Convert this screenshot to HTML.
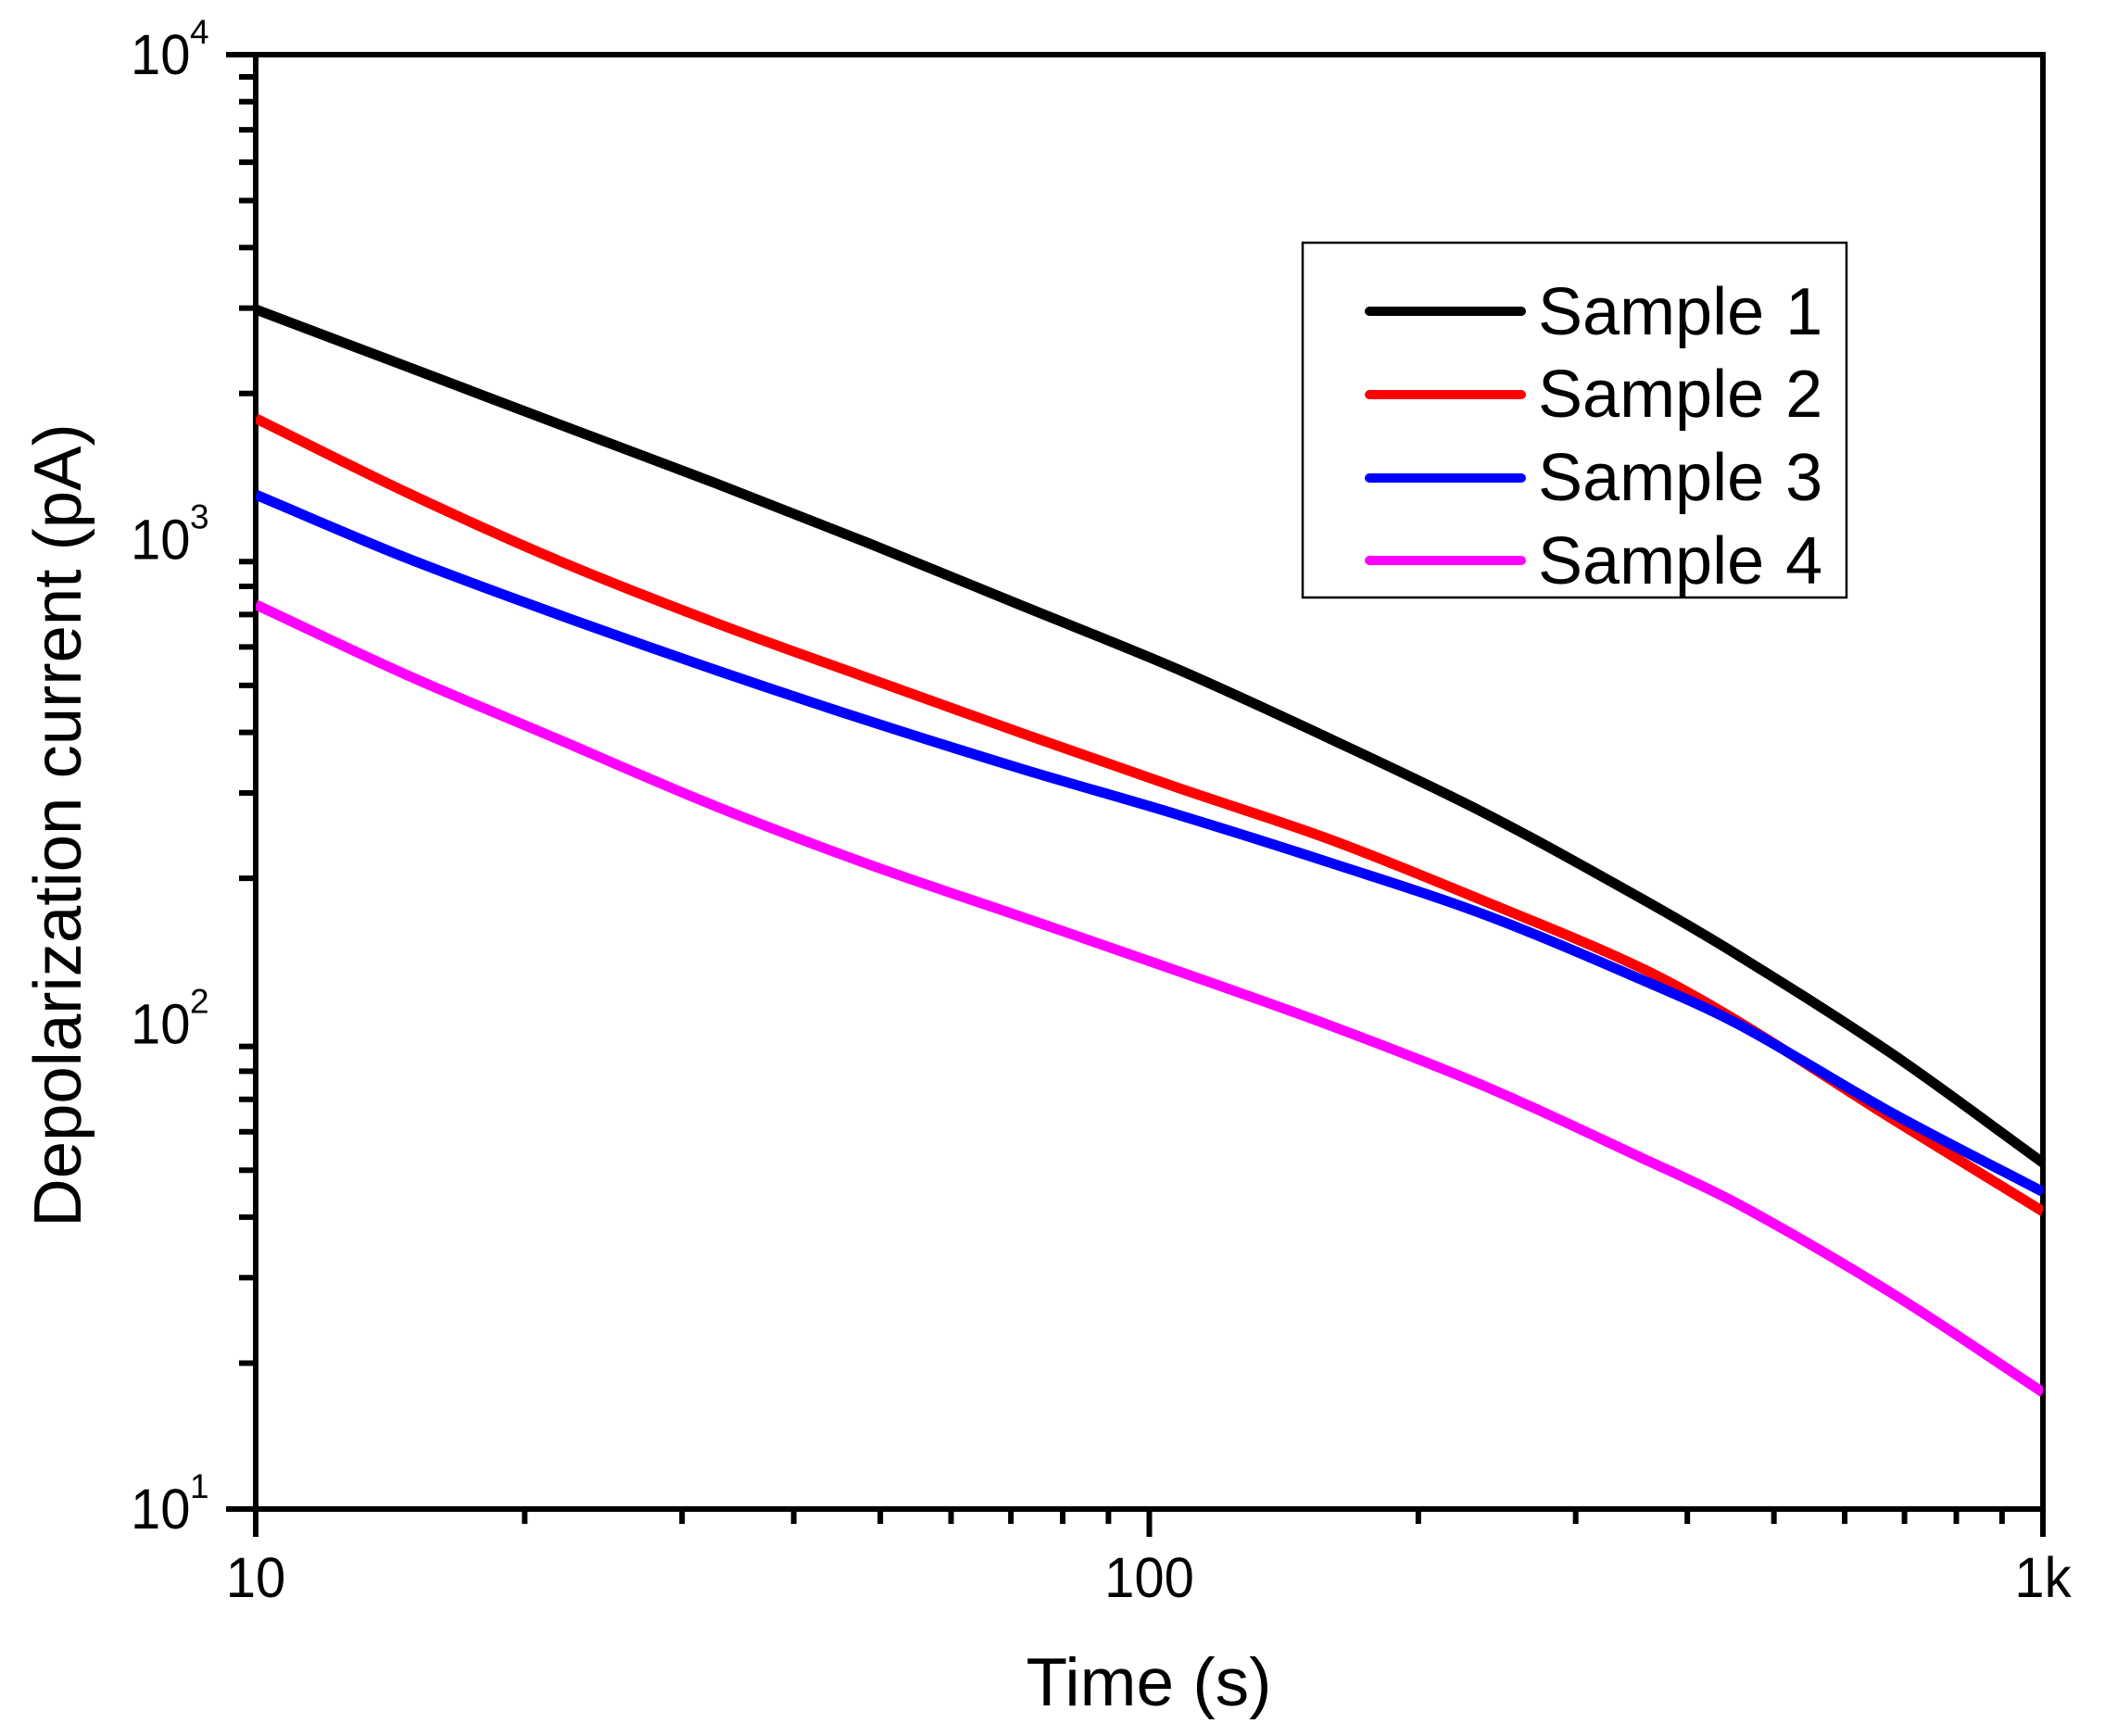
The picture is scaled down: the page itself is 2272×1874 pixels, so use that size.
<!DOCTYPE html>
<html lang="en">
<head>
<meta charset="utf-8">
<title>Depolarization current vs time</title>
<style>
html,body{margin:0;padding:0;background:#fff;}
svg{display:block;}
text{font-family:"Liberation Sans",Arial,sans-serif;fill:#000;}
</style>
</head>
<body>
<svg id="chart" width="2272" height="1874" viewBox="0 0 2272 1874" xmlns="http://www.w3.org/2000/svg">
  <rect x="0" y="0" width="2272" height="1874" fill="#fff"/>
  <defs>
    <clipPath id="plot-clip"><rect x="276" y="40" width="1929" height="1600"/></clipPath>
  </defs>
  <g id="axes"></g>
  <g id="series" clip-path="url(#plot-clip)"></g>
  <text x="1240" y="1841" font-size="73" text-anchor="middle">Time (s)</text>
  <text x="0" y="0" font-size="72.6" text-anchor="middle" transform="translate(87 891) rotate(-90)">Depolarization current (pA)</text>
  <g>
    <rect x="1406" y="262" width="587" height="383" fill="#fff" stroke="#000" stroke-width="2.5"/>
    <line x1="1478" y1="336" x2="1642" y2="336" stroke="#000000" stroke-width="10" stroke-linecap="round"/>
    <text x="1660" y="361" font-size="72" word-spacing="3">Sample 1</text>
    <line x1="1478" y1="426" x2="1642" y2="426" stroke="#ff0000" stroke-width="10" stroke-linecap="round"/>
    <text x="1660" y="450" font-size="72" word-spacing="3">Sample 2</text>
    <line x1="1478" y1="516" x2="1642" y2="516" stroke="#0000ff" stroke-width="10" stroke-linecap="round"/>
    <text x="1660" y="540" font-size="72" word-spacing="3">Sample 3</text>
    <line x1="1478" y1="605" x2="1642" y2="605" stroke="#ff00ff" stroke-width="10" stroke-linecap="round"/>
    <text x="1660" y="630" font-size="72" word-spacing="3">Sample 4</text>
  </g>
</svg>
<script>
const timeValues = [10, 14.7, 21.8, 32.5, 48.4, 72.1, 107.3, 159.8, 237.8, 354, 456.7, 679, 1000];
const sample1 = [2982, 2280, 1731, 1312, 984, 729.5, 541, 387, 272, 182.4, 138.5, 86.7, 51.8];
const sample2 = [1777, 1254, 905, 676, 518, 398, 308, 240, 179, 131, 101.2, 63.7, 41.1];
const sample3 = [1237, 918, 700, 540, 423, 336, 271, 215, 168, 124, 99.9, 65.5, 45.1];
const sample4 = [734, 527, 387, 283, 214, 166.3, 129, 99.2, 74.4, 53.2, 42.5, 27.8, 17.4];
const seriesNames = ['sample-1', 'sample-2', 'sample-3', 'sample-4'];
const seriesColors = ['#000000', '#ff0000', '#0000ff', '#ff00ff'];
const xMajorTicks = [10, 100, 1000];
const xMajorLabels = ['10', '100', '1k'];
const yExponents = [1, 2, 3, 4];
const minorMultipliers = [2, 3, 4, 5, 6, 7, 8, 9];

const NS = 'http://www.w3.org/2000/svg';
const plotLeft = 276, plotRight = 2205, plotTop = 59, plotBottom = 1629;
const xDomain = [10, 1000], yDomain = [10, 10000];

function xScale(t) {
  return plotLeft + (Math.log10(t) - Math.log10(xDomain[0])) / (Math.log10(xDomain[1]) - Math.log10(xDomain[0])) * (plotRight - plotLeft);
}
function yScale(v) {
  return plotBottom - (Math.log10(v) - Math.log10(yDomain[0])) / (Math.log10(yDomain[1]) - Math.log10(yDomain[0])) * (plotBottom - plotTop);
}
function make(tag, attrs, parent) {
  const el = document.createElementNS(NS, tag);
  for (const k in attrs) el.setAttribute(k, attrs[k]);
  parent.appendChild(el);
  return el;
}

const axes = document.getElementById('axes');
const axisStroke = {stroke: '#000', 'stroke-width': 6};

const frameTop = make('line', Object.assign({x1: 244, y1: plotTop, x2: plotRight + 3, y2: plotTop}, axisStroke), axes);


const frameBottom = make('line', Object.assign({x1: 244, y1: plotBottom, x2: plotRight + 3, y2: plotBottom}, axisStroke), axes);


const frameLeft = make('line', Object.assign({x1: plotLeft, y1: plotTop - 3, x2: plotLeft, y2: 1659}, axisStroke), axes);


const frameRight = make('line', Object.assign({x1: plotRight, y1: plotTop - 3, x2: plotRight, y2: 1659}, axisStroke), axes);



yExponents.forEach(function (exp) {
  const value = Math.pow(10, exp);
  const y = yScale(value);
  const label = make('text', {'font-size': 61, transform: 'translate(141 ' + (y + 21) + ') scale(0.95 1)'}, axes);
  label.textContent = '10';
  
  
  const sup = make('text', {x: 205, y: y - 12, 'font-size': 37}, axes);
  sup.textContent = String(exp);
  
  
  if (exp < 4) {
    minorMultipliers.forEach(function (m) {
      const my = yScale(value * m);
      const tick = make('line', Object.assign({x1: 258, y1: my, x2: plotLeft, y2: my}, axisStroke), axes);
      
      
    });
  }
});

xMajorTicks.forEach(function (t, i) {
  const x = xScale(t);
  if (i === 1) {
    const tick = make('line', Object.assign({x1: x, y1: plotBottom, x2: x, y2: 1659}, axisStroke), axes);
    
    
  }
  const label = make('text', {'font-size': 61, 'text-anchor': 'middle', transform: 'translate(' + x + ' 1724) scale(0.95 1)'}, axes);
  label.textContent = xMajorLabels[i];
  
  
  if (i < xMajorTicks.length - 1) {
    minorMultipliers.forEach(function (m) {
      const mx = xScale(t * m);
      const minor = make('line', Object.assign({x1: mx, y1: plotBottom, x2: mx, y2: 1645}, axisStroke), axes);
      
      
    });
  }
});

function smoothPath(pts) {
  const n = pts.length;
  const slopes = pts.map(function (p, i) {
    const a = pts[Math.max(0, i - 1)], b = pts[Math.min(n - 1, i + 1)];
    return (b[1] - a[1]) / (b[0] - a[0]);
  });
  let d = 'M' + pts[0][0].toFixed(2) + ' ' + pts[0][1].toFixed(2);
  for (let i = 0; i < n - 1; i++) {
    const p1 = pts[i], p2 = pts[i + 1], h = (p2[0] - p1[0]) / 3;
    d += 'C' + (p1[0] + h).toFixed(2) + ' ' + (p1[1] + slopes[i] * h).toFixed(2) + ' ' + (p2[0] - h).toFixed(2) + ' ' + (p2[1] - slopes[i + 1] * h).toFixed(2) + ' ' + p2[0].toFixed(2) + ' ' + p2[1].toFixed(2);
  }
  return d;
}

const seriesGroup = document.getElementById('series');
[sample1, sample2, sample3, sample4].forEach(function (values, i) {
  const pts = values.map(function (v, j) { return [xScale(timeValues[j]), yScale(v)]; });
  const path = make('path', {d: smoothPath(pts), fill: 'none', stroke: seriesColors[i], 'stroke-width': 11, 'stroke-linejoin': 'round'}, seriesGroup);
  
  
});
</script>
</body>
</html>
